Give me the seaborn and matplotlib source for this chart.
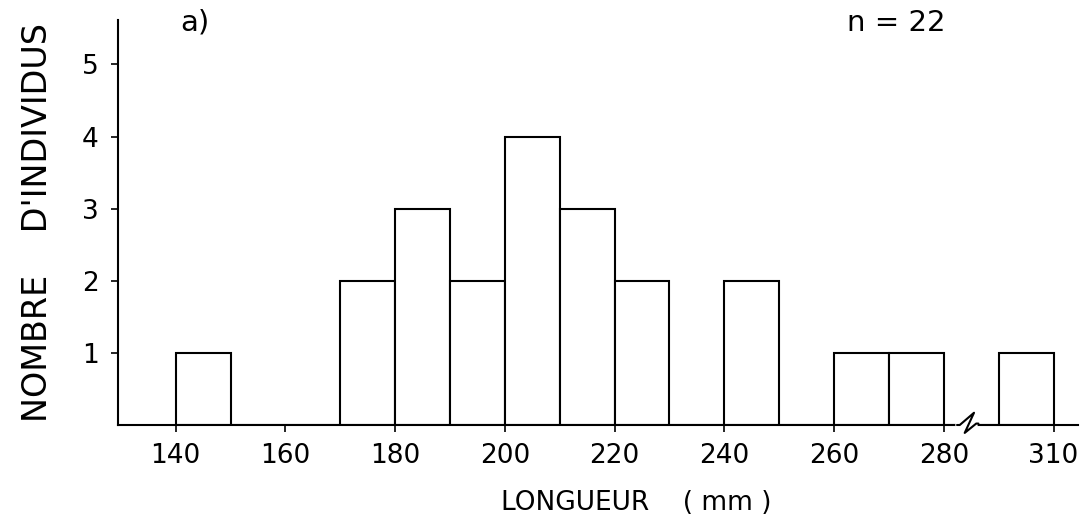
import numpy as np
import pandas as pd
import matplotlib
matplotlib.use("Agg")
import matplotlib.pyplot as plt
import seaborn as sns

# Data
bin_starts = [140, 170, 180, 190, 200, 210, 220, 240, 260, 270, 300]
counts = [1, 2, 3, 2, 4, 3, 2, 2, 1, 1, 1]
x_ticks = [140, 160, 180, 200, 220, 240, 260, 280, 310]
y_ticks = [1, 2, 3, 4, 5]
BIN_W = 10
BREAK_AT = 285   # axis break between 280 and 310
BREAK_SHIFT = 10  # values beyond the break are drawn 10 units to the left


def disp(v):
    return v - BREAK_SHIFT if v > BREAK_AT else v


sns.set_theme(style="white")
plt.rcParams["font.family"] = ["DejaVu Sans"]
plt.rcParams["text.color"] = "black"

fig = plt.figure(figsize=(10.85, 5.29), dpi=100)
ax = fig.add_axes([0.1088, 0.1966, 0.885, 0.766])

df = pd.DataFrame({
    "x": [disp(b) + BIN_W / 2 for b in bin_starts],
    "n": counts,
})
sns.histplot(data=df, x="x", weights="n", binwidth=BIN_W, binrange=(140, 300),
             color="white", edgecolor="black", linewidth=1.5, alpha=1,
             ax=ax, zorder=2)

ax.set_xlim(129.5, 304.5)
ax.set_ylim(0, 5.62)
ax.set_xticks([disp(t) for t in x_ticks])
ax.set_xticklabels([str(t) for t in x_ticks])
ax.set_yticks(y_ticks)
ax.set_yticklabels([str(t) for t in y_ticks])

for s in ["top", "right"]:
    ax.spines[s].set_visible(False)
for s in ["left", "bottom"]:
    ax.spines[s].set_color("black")
    ax.spines[s].set_linewidth(1.5)

ax.tick_params(axis="both", which="both", direction="out", length=5,
               width=1.2, colors="black", labelsize=19,
               bottom=True, left=True)
ax.tick_params(axis="x", pad=8)
ax.tick_params(axis="y", pad=9)

ax.set_xlabel("LONGUEUR    ( mm )", fontsize=19, color="black")
ax.xaxis.set_label_coords(0.54, -0.16)
ax.set_ylabel("NOMBRE    D'INDIVIDUS", fontsize=24, labelpad=20, color="black")

# Axis break mark
ax.plot([282.6, 285.7], [0, 0], color="white", lw=4, zorder=3, clip_on=False)
ax.plot([282.4, 282.9, 285.5, 283.8, 285.9, 286.3],
        [0, 0, 0.17, -0.11, 0.02, 0.02],
        color="black", lw=1.5, zorder=4, clip_on=False)

fig.text(0.166, 0.957, "a)", fontsize=21, ha="left", va="center")
fig.text(0.781, 0.957, "n = 22", fontsize=21, ha="left", va="center")

fig.savefig("out.png", dpi=100, facecolor="white")
